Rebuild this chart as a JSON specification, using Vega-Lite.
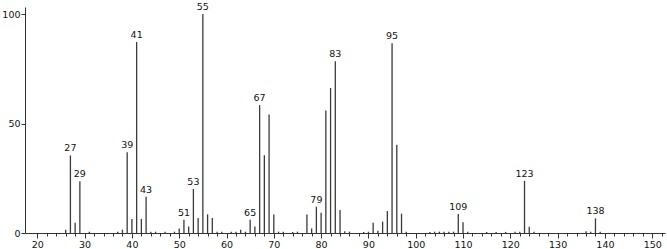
{
  "$schema": "https://vega.github.io/schema/vega-lite/v6.json",
  "autosize": "none",
  "width": 640,
  "height": 226,
  "padding": {"left": 25, "top": 7, "right": 2, "bottom": 16},
  "background": "white",
  "config": {"view": {"stroke": null}, "font": "DejaVu Sans"},
  "data": {"values": [
    {"mz": 26, "i": 1.5}, {"mz": 27, "i": 35.4, "lab": "27"}, {"mz": 28, "i": 4.7}, {"mz": 29, "i": 23.6, "lab": "29"},
    {"mz": 31, "i": 0.6}, {"mz": 37, "i": 0.6}, {"mz": 38, "i": 1.5},
    {"mz": 39, "i": 36.9, "lab": "39"}, {"mz": 40, "i": 6.4}, {"mz": 41, "i": 87.2, "lab": "41"}, {"mz": 42, "i": 6.4},
    {"mz": 43, "i": 16.5, "lab": "43"}, {"mz": 44, "i": 0.6}, {"mz": 45, "i": 0.6}, {"mz": 47, "i": 0.6}, {"mz": 49, "i": 0.6},
    {"mz": 50, "i": 2.0}, {"mz": 51, "i": 6.1, "lab": "51"}, {"mz": 52, "i": 3.0}, {"mz": 53, "i": 20.1, "lab": "53"},
    {"mz": 54, "i": 6.9}, {"mz": 55, "i": 100, "lab": "55"}, {"mz": 56, "i": 8.5}, {"mz": 57, "i": 6.9},
    {"mz": 58, "i": 0.6}, {"mz": 59, "i": 0.6}, {"mz": 61, "i": 0.6}, {"mz": 62, "i": 0.6}, {"mz": 63, "i": 1.5}, {"mz": 64, "i": 0.6},
    {"mz": 65, "i": 6.1, "lab": "65"}, {"mz": 66, "i": 3.0}, {"mz": 67, "i": 58.4, "lab": "67"}, {"mz": 68, "i": 35.5},
    {"mz": 69, "i": 54.1}, {"mz": 70, "i": 8.5}, {"mz": 71, "i": 0.6}, {"mz": 72, "i": 0.6}, {"mz": 74, "i": 0.5}, {"mz": 75, "i": 0.6},
    {"mz": 77, "i": 8.5}, {"mz": 78, "i": 2.0}, {"mz": 79, "i": 12.0, "lab": "79"}, {"mz": 80, "i": 9.3},
    {"mz": 81, "i": 55.9}, {"mz": 82, "i": 66.2}, {"mz": 83, "i": 78.4, "lab": "83"}, {"mz": 84, "i": 10.5},
    {"mz": 85, "i": 0.8}, {"mz": 86, "i": 0.6}, {"mz": 89, "i": 0.5}, {"mz": 90, "i": 0.6},
    {"mz": 91, "i": 4.7}, {"mz": 92, "i": 1.0}, {"mz": 93, "i": 5.2}, {"mz": 94, "i": 10.1},
    {"mz": 95, "i": 86.7, "lab": "95"}, {"mz": 96, "i": 40.3}, {"mz": 97, "i": 8.8}, {"mz": 98, "i": 0.6},
    {"mz": 103, "i": 0.5}, {"mz": 104, "i": 0.6}, {"mz": 105, "i": 0.6}, {"mz": 106, "i": 0.6}, {"mz": 107, "i": 0.6}, {"mz": 108, "i": 0.6},
    {"mz": 109, "i": 8.7, "lab": "109"}, {"mz": 110, "i": 4.9}, {"mz": 111, "i": 0.6},
    {"mz": 115, "i": 0.5}, {"mz": 117, "i": 0.5}, {"mz": 119, "i": 0.5}, {"mz": 121, "i": 0.6}, {"mz": 122, "i": 0.6},
    {"mz": 123, "i": 23.8, "lab": "123"}, {"mz": 124, "i": 2.9}, {"mz": 125, "i": 0.6},
    {"mz": 136, "i": 0.8}, {"mz": 137, "i": 0.6}, {"mz": 138, "i": 6.7, "lab": "138"}, {"mz": 139, "i": 0.6}
  ]},
  "encoding": {
    "x": {"field": "mz", "type": "quantitative",
      "scale": {"domain": [17.4, 152.7], "nice": false, "zero": false},
      "axis": {"title": null, "grid": false,
        "values": [20,22,24,26,28,30,32,34,36,38,40,42,44,46,48,50,52,54,56,58,60,62,64,66,68,70,72,74,76,78,80,82,84,86,88,90,92,94,96,98,100,102,104,106,108,110,112,114,116,118,120,122,124,126,128,130,132,134,136,138,140,142,144,146,148,150,152],
        "labelExpr": "datum.value % 10 === 0 ? datum.label : ''",
        "labelOverlap": false, "labelFlush": false,
        "tickSize": {"condition": {"test": "datum.value % 10 === 0", "value": 5}, "value": 3},
        "tickColor": "#333", "domainColor": "#333", "labelColor": "#111",
        "labelFontSize": 9.5, "labelPadding": 1, "tickWidth": 1}},
    "y": {"field": "i", "type": "quantitative",
      "scale": {"domain": [0, 103.2], "nice": false},
      "axis": {"title": null, "grid": false, "values": [0, 50, 100], "tickSize": 4,
        "tickColor": "#333", "domainColor": "#333", "labelColor": "#111",
        "labelFontSize": 9.5, "labelPadding": 1}}
  },
  "layer": [
    {"mark": {"type": "rule", "color": "#3a3a3a", "strokeWidth": 1.3},
     "encoding": {"y2": {"datum": 0}}},
    {"transform": [{"filter": "isValid(datum.lab)"}],
     "mark": {"type": "text", "baseline": "bottom", "dy": -2, "fontSize": 9.5, "color": "#111"},
     "encoding": {"text": {"field": "lab"}}}
  ]
}
